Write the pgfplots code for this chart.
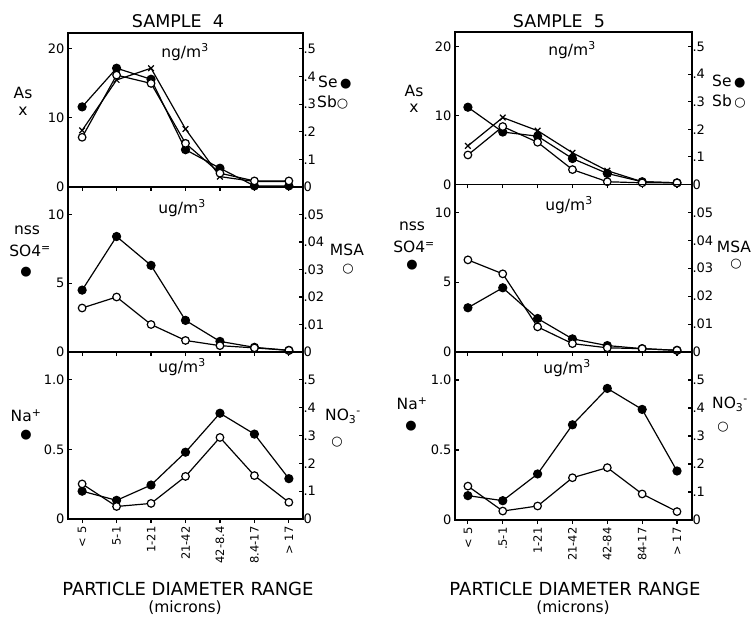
\documentclass[border=0pt]{standalone}
\usepackage{pgfplots}
\pgfplotsset{compat=1.18}
\usepackage{pgfplotstable}
\usepackage{fontspec}
\setmainfont{DejaVu Sans}
\newfontfamily\sym{DejaVu Sans}

% sample 4
\pgfplotstableread{
x As Se Sb
0 8.2 0.29 0.18
1 15.5 0.43 0.405
2 17.2 0.39 0.375
3 8.4 0.135 0.158
4 1.5 0.068 0.05
5 0.8 0.004 0.022
6 0.8 0.004 0.022
}\sfourA
\pgfplotstableread{
x SO4 MSA
0 4.5 0.016
1 8.4 0.020
2 6.3 0.010
3 2.3 0.0042
4 0.77 0.0023
5 0.34 0.0015
6 0.12 0.0006
}\sfourB
\pgfplotstableread{
x Na NO3
0 0.20 0.126
1 0.134 0.045
2 0.244 0.056
3 0.48 0.153
4 0.76 0.293
5 0.61 0.156
6 0.29 0.06
}\sfourC
% sample 5
\pgfplotstableread{
x As Se Sb
0 5.6 0.28 0.107
1 9.7 0.19 0.21
2 7.8 0.175 0.153
3 4.6 0.094 0.054
4 2.0 0.04 0.01
5 0.4 0.01 0.006
6 0.24 0.006 0.006
}\sfiveA
\pgfplotstableread{
x SO4 MSA
0 3.17 0.033
1 4.6 0.028
2 2.4 0.009
3 0.94 0.003
4 0.46 0.0015
5 0.24 0.0012
6 0.12 0.0006
}\sfiveB
\pgfplotstableread{
x Na NO3
0 0.174 0.121
1 0.138 0.032
2 0.329 0.05
3 0.68 0.151
4 0.94 0.187
5 0.79 0.093
6 0.35 0.03
}\sfiveC

\pgfplotsset{
  base/.style={scale only axis, clip=false,
    axis line style={line width=1.4pt},
    every tick/.style={black, line width=1.1pt},
    major tick length=4pt, tick align=inside,
    scaled y ticks=false,
    tick label style={font=\fontsize{13}{14}\selectfont},
    /pgf/number format/assume math mode=true},
  lcol/.style={xmin=-0.41, xmax=6.41, width=235pt},
  rcol/.style={xmin=-0.37, xmax=6.43, width=237pt},
  leftax/.style={base, xtick={0,...,6}, xtick pos=bottom, ytick pos=left,
    xtick style={yshift=-4pt}, xticklabels={}},
  rightax/.style={base, axis x line=none, axis y line*=right,
    yticklabel style={xshift=-3pt}},
  bot/.style={xticklabel style={rotate=90, anchor=east, xshift=-4pt,
    font=\fontsize{11.5}{12}\selectfont}},
  fill/.style={black, line width=1.2pt, mark=*, mark size=4pt},
  open/.style={black, line width=1.2pt, mark=*, mark size=3.8pt,
    mark options={fill=white, line width=1.2pt}},
  cross/.style={black, line width=1.2pt, mark=x, mark size=4pt},
}

\begin{document}
\begin{tikzpicture}
\path (0pt,0pt) rectangle (755pt,622pt);

% ---------- sample 4 ----------
\begin{axis}[leftax, lcol, at={(68pt,435pt)}, height=154pt,
  ymin=0, ymax=22.3, ytick={0,10,20}]
\addplot[cross] table[x=x,y=As] {\sfourA};
\end{axis}
\begin{axis}[rightax, lcol, at={(68pt,435pt)}, height=154pt,
  ymin=0, ymax=0.5575, ytick={0,0.1,0.2,0.3,0.4,0.5},
  yticklabels={0,.1,.2,.3,.4,.5}]
\addplot[fill] table[x=x,y=Se] {\sfourA};
\addplot[open] table[x=x,y=Sb] {\sfourA};
\end{axis}

\begin{axis}[leftax, lcol, at={(68pt,270pt)}, height=165pt,
  ymin=0, ymax=12, ytick={0,5,10}]
\addplot[fill] table[x=x,y=SO4] {\sfourB};
\end{axis}
\begin{axis}[rightax, lcol, at={(68pt,270pt)}, height=165pt,
  ymin=0, ymax=0.06, ytick={0,0.01,0.02,0.03,0.04,0.05},
  yticklabels={0,.01,.02,.03,.04,.05}]
\addplot[open] table[x=x,y=MSA] {\sfourB};
\end{axis}

\begin{axis}[leftax, bot, lcol, at={(68pt,103pt)}, height=167pt,
  ymin=0, ymax=1.2, ytick={0,0.5,1}, yticklabels={0,0.5,1.0},
  xticklabels={< 5,5-1,1-21,21-42,42-8.4,8.4-17,> 17}]
\addplot[fill] table[x=x,y=Na] {\sfourC};
\end{axis}
\begin{axis}[rightax, lcol, at={(68pt,103pt)}, height=167pt,
  ymin=0, ymax=0.6, ytick={0,0.1,0.2,0.3,0.4,0.5},
  yticklabels={0,.1,.2,.3,.4,.5}]
\addplot[open] table[x=x,y=NO3] {\sfourC};
\end{axis}

% ---------- sample 5 ----------
\begin{axis}[leftax, rcol, at={(455pt,437.5pt)}, height=152.5pt,
  ymin=0, ymax=22.1, ytick={0,10,20}]
\addplot[cross] table[x=x,y=As] {\sfiveA};
\end{axis}
\begin{axis}[rightax, rcol, at={(455pt,437.5pt)}, height=152.5pt,
  ymin=0, ymax=0.5525, ytick={0,0.1,0.2,0.3,0.4,0.5},
  yticklabels={0,.1,.2,.3,.4,.5}]
\addplot[fill] table[x=x,y=Se] {\sfiveA};
\addplot[open] table[x=x,y=Sb] {\sfiveA};
\end{axis}

\begin{axis}[leftax, rcol, at={(455pt,270pt)}, height=167.5pt,
  ymin=0, ymax=12, ytick={0,5,10}]
\addplot[fill] table[x=x,y=SO4] {\sfiveB};
\end{axis}
\begin{axis}[rightax, rcol, at={(455pt,270pt)}, height=167.5pt,
  ymin=0, ymax=0.06, ytick={0,0.01,0.02,0.03,0.04,0.05},
  yticklabels={0,.01,.02,.03,.04,.05}]
\addplot[open] table[x=x,y=MSA] {\sfiveB};
\end{axis}

\begin{axis}[leftax, bot, rcol, at={(455pt,102pt)}, height=168pt,
  ymin=0, ymax=1.2, ytick={0,0.5,1}, yticklabels={0,0.5,1.0},
  xticklabels={< 5,.5-1,1-21,21-42,42-84,84-17,> 17}]
\addplot[fill] table[x=x,y=Na] {\sfiveC};
\end{axis}
\begin{axis}[rightax, rcol, at={(455pt,102pt)}, height=168pt,
  ymin=0, ymax=0.6, ytick={0,0.1,0.2,0.3,0.4,0.5},
  yticklabels={0,.1,.2,.3,.4,.5}]
\addplot[open] table[x=x,y=NO3] {\sfiveC};
\end{axis}

% ---------- labels ----------
\begin{scope}[every node/.style={font=\fontsize{15.5}{17}\selectfont, inner sep=0pt},
  sy/.style={font=\fontsize{13}{14}\sym}]
\node[font=\fontsize{17.5}{19}\selectfont] at (178pt,601pt) {SAMPLE\ \ 4};
\node at (185pt,570pt) {ng/m\textsuperscript{3}};
\node at (23pt,529pt) {As};
\node at (23pt,511pt) {x};
\node[anchor=west] at (318pt,539pt) {Se\,{\fontsize{13}{14}\sym ●}};
\node[anchor=west] at (317pt,520pt) {Sb{\fontsize{13}{14}\sym ○}};
\node at (182pt,414pt) {ug/m\textsuperscript{3}};
\node at (27pt,392pt) {nss};
\node at (30pt,371pt) {SO4\textsuperscript{=}};
\node[sy] at (26pt,350pt) {●};
\node at (347pt,372pt) {MSA};
\node[sy] at (348pt,353pt) {○};
\node at (182pt,255pt) {ug/m\textsuperscript{3}};
\node at (26pt,206pt) {Na\textsuperscript{+}};
\node[sy] at (26pt,187pt) {●};
\node at (343pt,206pt) {NO\textsubscript{3}\textsuperscript{-}};
\node[sy] at (337pt,180pt) {○};
\node[font=\fontsize{18}{20}\selectfont] at (188pt,33pt) {PARTICLE DIAMETER RANGE};
\node at (185pt,14pt) {(microns)};

\node[font=\fontsize{17.5}{19}\selectfont] at (559pt,601pt) {SAMPLE\ \ 5};
\node at (572pt,572pt) {ng/m\textsuperscript{3}};
\node at (414pt,531pt) {As};
\node at (414pt,514pt) {x};
\node[anchor=west] at (712pt,540pt) {Se\,{\fontsize{13}{14}\sym ●}};
\node[anchor=west] at (712pt,521pt) {Sb\,{\fontsize{13}{14}\sym ○}};
\node at (569pt,417pt) {ug/m\textsuperscript{3}};
\node at (412pt,396pt) {nss};
\node at (414pt,375pt) {SO4\textsuperscript{=}};
\node[sy] at (412pt,357pt) {●};
\node at (734pt,375pt) {MSA};
\node[sy] at (736pt,358pt) {○};
\node at (567pt,254pt) {ug/m\textsuperscript{3}};
\node at (412pt,218pt) {Na\textsuperscript{+}};
\node[sy] at (411pt,196pt) {●};
\node at (730pt,218pt) {NO\textsubscript{3}\textsuperscript{-}};
\node[sy] at (723pt,195pt) {○};
\node[font=\fontsize{18}{20}\selectfont] at (575pt,33pt) {PARTICLE DIAMETER RANGE};
\node at (573pt,14pt) {(microns)};
\end{scope}
\end{tikzpicture}
\end{document}
